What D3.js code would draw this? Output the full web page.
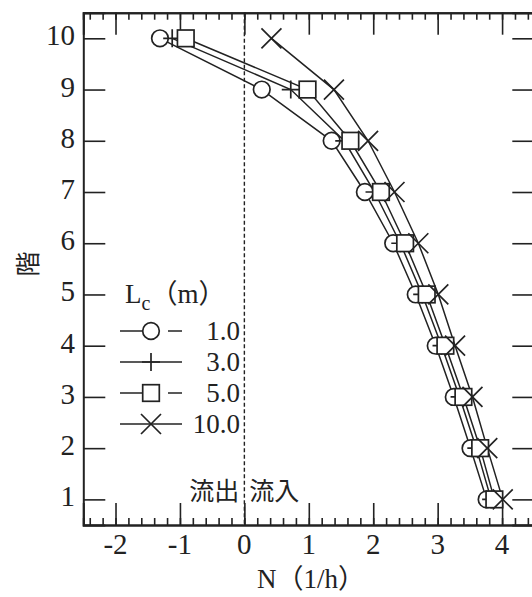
<!DOCTYPE html>
<html>
<head>
<meta charset="utf-8">
<script src="https://cdn.jsdelivr.net/npm/d3@7"></script>
<style>
  html, body { margin: 0; padding: 0; background: #fff; }
  svg { display: block; }
  .num { font-family: "Liberation Serif", "Noto Sans CJK JP", serif; fill: #222; }
  .cjk { font-family: "Noto Sans CJK JP", sans-serif; fill: #222; }
</style>
</head>
<body>
<svg id="chart" width="532" height="597"></svg>
<script>
// Floors (階) and the ventilation rate N (1/h) for each crack length Lc
const floors = [1, 2, 3, 4, 5, 6, 7, 8, 9, 10];
const lc1  = [3.76, 3.51, 3.25, 2.97, 2.66, 2.31, 1.87, 1.355, 0.27, -1.31];
const lc3  = [3.83, 3.60, 3.34, 3.06, 2.76, 2.42, 2.02, 1.55, 0.72, -1.12];
const lc5  = [3.88, 3.66, 3.40, 3.12, 2.83, 2.495, 2.12, 1.645, 0.98, -0.91];
const lc10 = [4.01, 3.77, 3.54, 3.27, 3.01, 2.70, 2.33, 1.92, 1.39, 0.42];

const seriesNames = ["1.0", "3.0", "5.0", "10.0"];
const seriesMarkers = ["circle", "plus", "square", "cross"];
const xTicks = [-2, -1, 0, 1, 2, 3, 4];
const xMinorTicks = d3.range(-24, 45, 2).map(d => d / 10);
const yTicks = floors;

const series = [lc1, lc3, lc5, lc10].map((vals, i) => ({
  name: seriesNames[i],
  marker: seriesMarkers[i],
  points: vals.map((v, j) => ({ x: v, y: floors[j] }))
}));

const svg = d3.select("#chart");
const x = d3.scaleLinear().domain([-2.5, 4.5]).range([83.3, 534.3]);
const y = d3.scaleLinear().domain([0.5, 10.5]).range([525, 12.7]);

const ink = "#222";
const [x0, x1] = x.range();
const [yb, yt] = y.range();

// Axes with inward ticks on all sides
const major = 22, minor = 7;
const gBottom = svg.append("g").attr("transform", `translate(0,${yb})`);
gBottom.call(d3.axisBottom(x).tickValues(xMinorTicks).tickSize(-minor).tickFormat(""));
gBottom.append("g").call(d3.axisBottom(x).tickValues(xTicks).tickSize(-major).tickFormat(""));
const gTop = svg.append("g").attr("transform", `translate(0,${yt})`);
gTop.call(d3.axisTop(x).tickValues(xMinorTicks).tickSize(-minor).tickFormat(""));
gTop.append("g").call(d3.axisTop(x).tickValues(xTicks).tickSize(-major).tickFormat(""));
const gLeft = svg.append("g").attr("transform", `translate(${x0},0)`);
gLeft.call(d3.axisLeft(y).tickValues(yTicks).tickSize(-major).tickFormat(""));
const gRight = svg.append("g").attr("transform", `translate(${x1},0)`);
gRight.call(d3.axisRight(y).tickValues(yTicks).tickSize(-major).tickFormat(""));

svg.selectAll(".domain").attr("stroke", ink).attr("stroke-width", 2);
svg.selectAll(".tick line").attr("stroke", ink).attr("stroke-width", 1.6);

// Tick labels
svg.append("g").selectAll("text").data(xTicks).join("text")
  .attr("class", "num")
  .attr("x", d => x(d))
  .attr("y", 554)
  .attr("text-anchor", "middle")
  .attr("font-size", 29)
  .text(d => d < 0 ? "-" + Math.abs(d) : d);

svg.append("g").selectAll("text").data(yTicks).join("text")
  .attr("class", "num")
  .attr("x", 75)
  .attr("y", d => y(d) + 7)
  .attr("text-anchor", "end")
  .attr("font-size", 29)
  .text(d => d);

// Axis titles
svg.append("text")
  .attr("class", "num")
  .attr("x", 257)
  .attr("y", 588)
  .attr("font-size", 27)
  .text("N（1/h）");

svg.append("text")
  .attr("class", "cjk")
  .attr("transform", "translate(25.5,264) rotate(-90)")
  .attr("text-anchor", "middle")
  .attr("dominant-baseline", "central")
  .attr("font-size", 25)
  .text("階");

// Zero line separating outflow and inflow
svg.append("line")
  .attr("x1", x(0)).attr("x2", x(0))
  .attr("y1", yt).attr("y2", yb)
  .attr("stroke", ink).attr("stroke-width", 1.4)
  .attr("stroke-dasharray", "4,2.5");

svg.append("text").attr("class", "cjk")
  .attr("x", x(0) - 5).attr("y", 500)
  .attr("text-anchor", "end").attr("font-size", 25).text("流出");
svg.append("text").attr("class", "cjk")
  .attr("x", x(0) + 5).attr("y", 500)
  .attr("text-anchor", "start").attr("font-size", 25).text("流入");

// Marker drawing
function drawMarker(g, type, cx, cy) {
  const sw = 1.7;
  if (type === "circle") {
    g.append("circle").attr("cx", cx).attr("cy", cy).attr("r", 8.3)
      .attr("fill", "#fff").attr("stroke", ink).attr("stroke-width", sw);
  } else if (type === "square") {
    g.append("rect").attr("x", cx - 8.3).attr("y", cy - 8.3)
      .attr("width", 16.6).attr("height", 16.6)
      .attr("fill", "#fff").attr("stroke", ink).attr("stroke-width", sw);
  } else if (type === "plus") {
    g.append("path").attr("d", `M${cx - 9},${cy}H${cx + 9}M${cx},${cy - 9}V${cy + 9}`)
      .attr("stroke", ink).attr("stroke-width", sw).attr("fill", "none");
  } else if (type === "cross") {
    g.append("path").attr("d", `M${cx - 10},${cy - 10}L${cx + 10},${cy + 10}M${cx - 10},${cy + 10}L${cx + 10},${cy - 10}`)
      .attr("stroke", ink).attr("stroke-width", sw).attr("fill", "none");
  }
}

// Series lines
const line = d3.line().x(d => x(d.x)).y(d => y(d.y));
svg.append("g").selectAll("path").data(series).join("path")
  .attr("d", d => line(d.points))
  .attr("fill", "none").attr("stroke", ink).attr("stroke-width", 1.5);

// Series markers, drawn series by series
const gMarks = svg.append("g");
series.forEach(s => {
  s.points.forEach(p => drawMarker(gMarks, s.marker, x(p.x), y(p.y)));
});

// Legend
const lg = svg.append("g");
const title = lg.append("text").attr("class", "num").attr("x", 125).attr("y", 303).attr("font-size", 27);
title.append("tspan").text("L");
title.append("tspan").attr("dy", 7).attr("font-size", 20).text("c");
title.append("tspan").attr("dy", -7).text("（m）");

series.forEach((s, i) => {
  const ry = 331 + i * 31;
  if (s.marker === "circle" || s.marker === "square") {
    lg.append("line").attr("x1", 120).attr("x2", 151).attr("y1", ry).attr("y2", ry)
      .attr("stroke", ink).attr("stroke-width", 1.5);
    lg.append("line").attr("x1", 168).attr("x2", 182).attr("y1", ry).attr("y2", ry)
      .attr("stroke", ink).attr("stroke-width", 1.5);
  } else {
    lg.append("line").attr("x1", 120).attr("x2", 182).attr("y1", ry).attr("y2", ry)
      .attr("stroke", ink).attr("stroke-width", 1.5);
  }
  drawMarker(lg, s.marker, 151, ry);
  lg.append("text").attr("class", "num")
    .attr("x", 240).attr("y", ry + 8.5)
    .attr("text-anchor", "end").attr("font-size", 27)
    .text(s.name);
});
</script>
</body>
</html>
